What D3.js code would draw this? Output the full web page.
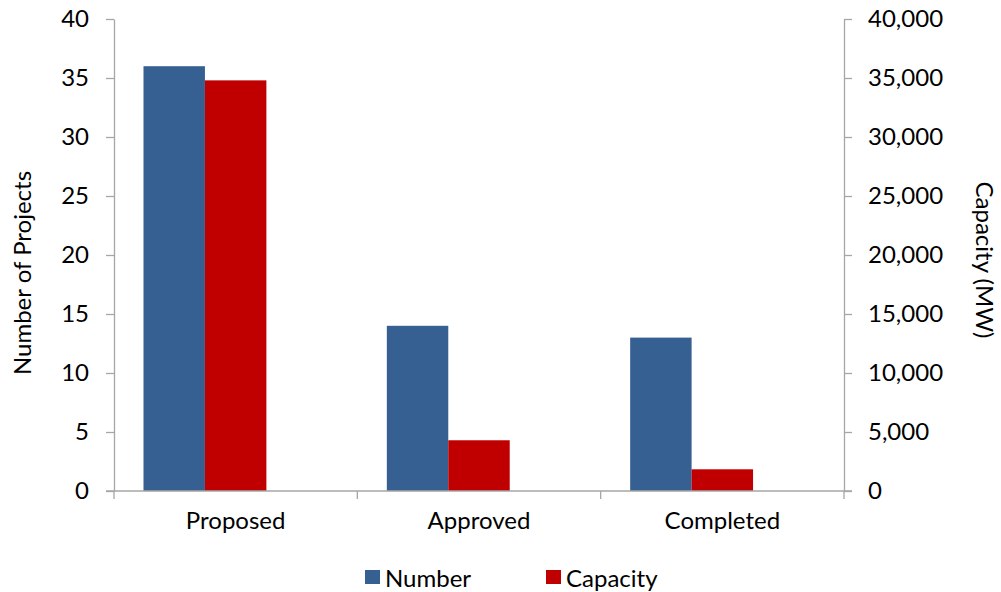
<!DOCTYPE html>
<html>
<head>
<meta charset="utf-8">
<script src="https://cdn.jsdelivr.net/npm/d3@7/dist/d3.min.js"></script>
<style>
  html, body { margin: 0; padding: 0; background: #fff; }
  svg { display: block; font-family: Lato, "Open Sans", sans-serif; }
  .tick text { fill: #000; }
</style>
</head>
<body>
<svg id="chart" width="1001" height="592"></svg>
<script>
// Project pipeline: count of projects (left axis) and capacity in MW (right axis)
const categories = ["Proposed", "Approved", "Completed"];
const numberValues = [36, 14, 13];
const capacityValues = [34800, 4300, 1840];
const leftTicks = [0, 5, 10, 15, 20, 25, 30, 35, 40];
const rightTicks = [0, 5000, 10000, 15000, 20000, 25000, 30000, 35000, 40000];
const seriesNames = ["Number", "Capacity"];
const seriesColors = ["#376092", "#C00000"];

const svg = d3.select("#chart");
const margin = { left: 114, right: 1001 - 844, top: 19, bottom: 592 - 491 };
const W = 1001, H = 592;
const fontSize = 24;

const x0 = d3.scaleBand().domain(categories).range([margin.left, W - margin.right]);
// each cluster keeps room for a third slot, leaving the pair off-centre
const x1 = d3.scaleBand().domain(["Number", "Capacity", "spare"])
  .range([0, x0.bandwidth()]).paddingOuter(0.48);

const yL = d3.scaleLinear().domain([0, 40]).range([H - margin.bottom, margin.top]);
const yR = d3.scaleLinear().domain([0, 40000]).range([H - margin.bottom, margin.top]);

const axisColor = "#A6A6A6";

// bars
const groups = svg.append("g").selectAll("g").data(categories).join("g")
  .attr("transform", d => `translate(${x0(d)},0)`);

groups.append("rect")
  .attr("x", x1("Number"))
  .attr("width", x1.bandwidth())
  .attr("y", (d, i) => yL(numberValues[i]))
  .attr("height", (d, i) => yL(0) - yL(numberValues[i]))
  .attr("fill", seriesColors[0]);

groups.append("rect")
  .attr("x", x1("Capacity"))
  .attr("width", x1.bandwidth())
  .attr("y", (d, i) => yR(capacityValues[i]))
  .attr("height", (d, i) => yR(0) - yR(capacityValues[i]))
  .attr("fill", seriesColors[1]);

// left axis
const gL = svg.append("g").attr("transform", `translate(${margin.left},0)`)
  .call(d3.axisLeft(yL).tickValues(leftTicks).tickSize(8).tickPadding(17).tickSizeOuter(0));
// right axis
const gR = svg.append("g").attr("transform", `translate(${W - margin.right},0)`)
  .call(d3.axisRight(yR).tickValues(rightTicks).tickSize(8).tickPadding(16).tickSizeOuter(0)
    .tickFormat(d3.format(",")));
// category axis
const gX = svg.append("g").attr("transform", `translate(0,${yL(0)})`)
  .call(d3.axisBottom(x0).tickSize(0).tickPadding(21));

[gL, gR, gX].forEach(g => {
  g.selectAll("text").attr("font-size", fontSize).attr("font-family", "Lato, sans-serif");
  g.selectAll("line").attr("stroke", axisColor).attr("stroke-width", 1.3);
  g.select(".domain").attr("stroke", axisColor).attr("stroke-width", 1.3);
});
gX.select(".domain").remove();
// baseline spanning both tick rows, with category dividers
svg.append("line")
  .attr("x1", margin.left - 8).attr("x2", W - margin.right + 8)
  .attr("y1", yL(0)).attr("y2", yL(0))
  .attr("stroke", axisColor).attr("stroke-width", 1.3);
const dividers = categories.map(c => x0(c)).concat([x0(categories[categories.length - 1]) + x0.bandwidth()]);
svg.append("g").selectAll("line").data(dividers).join("line")
  .attr("x1", d => d).attr("x2", d => d)
  .attr("y1", yL(0)).attr("y2", yL(0) + 8)
  .attr("stroke", axisColor).attr("stroke-width", 1.3);

// axis titles
svg.append("text")
  .attr("transform", `translate(31,${(yL(0) + yL(40)) / 2 + 18}) rotate(-90)`)
  .attr("text-anchor", "middle").attr("font-size", fontSize).attr("fill", "#000")
  .text("Number of Projects");
svg.append("text")
  .attr("transform", `translate(976,${(yL(0) + yL(40)) / 2 + 5}) rotate(90)`)
  .attr("text-anchor", "middle").attr("font-size", fontSize).attr("fill", "#000")
  .text("Capacity (MW)");

// legend
const legend = svg.append("g");
const legendX = [365, 546];
seriesNames.forEach((name, i) => {
  legend.append("rect").attr("x", legendX[i]).attr("y", 570).attr("width", 15).attr("height", 14)
    .attr("fill", seriesColors[i]);
  legend.append("text").attr("x", legendX[i] + 20).attr("y", 587)
    .attr("font-size", fontSize).attr("fill", "#000").text(name);
});
</script>
</body>
</html>
